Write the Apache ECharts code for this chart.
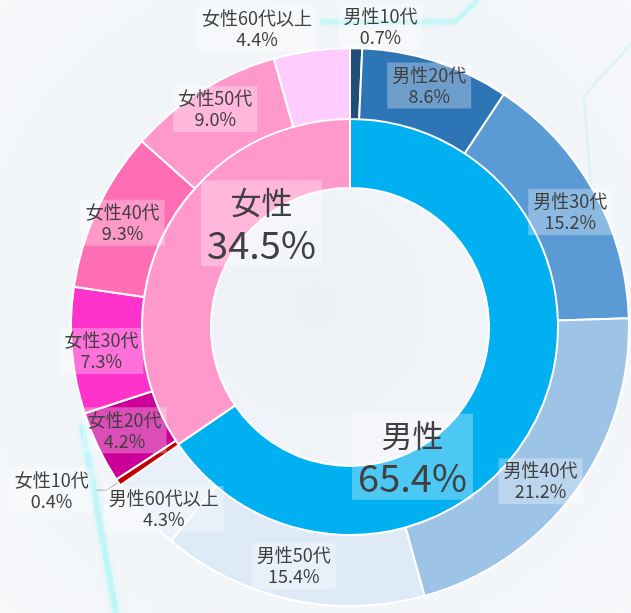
<!DOCTYPE html>
<html>
<head>
<meta charset="utf-8">
<script src="https://cdn.jsdelivr.net/npm/echarts@6/dist/echarts.min.js"></script>
<style>
html, body { margin: 0; padding: 0; }
#chart { width: 631px; height: 613px; }
</style>
</head>
<body>
<div id="chart"></div>
<script>
// 男女比率（内側）
var genderNames = ['男性', '女性'];
var genderValues = [65.4, 34.5];
// 年代別（外側）
var maleNames = ['男性10代', '男性20代', '男性30代', '男性40代', '男性50代', '男性60代以上'];
var maleValues = [0.7, 8.6, 15.2, 21.2, 15.4, 4.3];
var femaleNames = ['女性10代', '女性20代', '女性30代', '女性40代', '女性50代', '女性60代以上'];
var femaleValues = [0.4, 4.2, 7.3, 9.3, 9.0, 4.4];

var genderColors = ['#00b0f0', '#ff99cc'];
var maleColors = ['#1f4e79', '#2e75b6', '#5b9bd5', '#9dc3e6', '#deebf7', '#e9f0f9'];
var femaleColors = ['#c00000', '#cc0099', '#ff33cc', '#ff6eb4', '#ff99cc', '#ffccff'];

// ラベル位置の微調整 [dx, dy]
var innerNudge = [[-94, 47], [68, -21]];
var outerNudge = [[25, -54], [3, -7], [5, 5], [-8, 8], [-4, -2], [-4, 16],
                  [-40, 0], [-3, -3], [-3, 3], [-4, 0], [-4, -9], [-59, -54]];

var labelFont = 'Noto Sans CJK JP';

var myChart = echarts.init(document.getElementById('chart'));

var innerData = genderNames.map(function (n, i) {
    return { name: n, value: genderValues[i], itemStyle: { color: genderColors[i] } };
});
var outerData = [];
maleNames.forEach(function (n, i) {
    outerData.push({ name: n, value: maleValues[i], itemStyle: { color: maleColors[i] } });
});
femaleNames.forEach(function (n, i) {
    var d = { name: n, value: femaleValues[i], itemStyle: { color: femaleColors[i] } };
    if (i === 0) {
        // 女性10代は外側に引き出し線付きで表示
        d.label = { position: 'outside' };
        d.labelLine = { show: true };
    }
    outerData.push(d);
});

var option = {
    backgroundColor: {
        type: 'radial', x: 0.5, y: 0.5, r: 0.75,
        colorStops: [
            { offset: 0, color: '#edf1f6' },
            { offset: 1, color: '#f6f8fa' }
        ]
    },
    animation: false,
    graphic: [
        {
            type: 'polyline', z: -10, silent: true,
            shape: { points: [[82, 425], [116, 613]] },
            style: { stroke: 'rgba(170,245,248,0.6)', lineWidth: 6, fill: null, shadowBlur: 6, shadowColor: 'rgba(170,245,248,0.8)' }
        },
        {
            type: 'polyline', z: -10, silent: true,
            shape: { points: [[320, 22], [455, 22], [478, 0]] },
            style: { stroke: 'rgba(170,245,248,0.5)', lineWidth: 5, fill: null, shadowBlur: 6, shadowColor: 'rgba(170,245,248,0.8)' }
        },
        {
            type: 'polyline', z: -10, silent: true,
            shape: { points: [[631, 44], [584, 96], [602, 330]] },
            style: { stroke: 'rgba(190,240,242,0.4)', lineWidth: 3, fill: null }
        }
    ],
    series: [
        {
            name: '男女',
            type: 'pie',
            center: [350, 327],
            radius: [139, 209],
            startAngle: 90,
            clockwise: true,
            avoidLabelOverlap: false,
            itemStyle: { borderColor: '#fff', borderWidth: 2 },
            label: {
                show: true,
                position: 'inside',
                formatter: function (p) { return '{n|' + p.name + '}\n{v|' + p.value.toFixed(1) + '%}'; },
                color: '#404040',
                backgroundColor: 'rgba(255,255,255,0.3)',
                padding: [1, 6],
                rich: {
                    n: { fontFamily: labelFont, fontSize: 31, lineHeight: 42, color: '#404040' },
                    v: { fontFamily: labelFont, fontSize: 38, lineHeight: 42, color: '#404040' }
                }
            },
            labelLayout: function (p) {
                return { dx: innerNudge[p.dataIndex][0], dy: innerNudge[p.dataIndex][1] };
            },
            labelLine: { show: false },
            emphasis: { disabled: true },
            data: innerData
        },
        {
            name: '年代',
            type: 'pie',
            center: [350, 327],
            radius: [208, 279],
            startAngle: 90,
            clockwise: true,
            avoidLabelOverlap: false,
            itemStyle: { borderColor: '#fff', borderWidth: 2 },
            label: {
                show: true,
                position: 'inside',
                formatter: function (p) { return p.name + '\n' + p.value.toFixed(1) + '%'; },
                fontFamily: labelFont,
                fontSize: 18,
                lineHeight: 21,
                color: '#404040',
                backgroundColor: 'rgba(255,255,255,0.3)',
                padding: [2, 5]
            },
            labelLine: {
                show: false,
                length: 14,
                length2: 10,
                lineStyle: { color: '#a6a6a6', width: 1 }
            },
            labelLayout: function (p) {
                var r = { dx: outerNudge[p.dataIndex][0], dy: outerNudge[p.dataIndex][1] };
                if (p.dataIndex === 6) r.align = 'center';
                return r;
            },
            emphasis: { disabled: true },
            data: outerData
        }
    ]
};
myChart.setOption(option);
</script>
</body>
</html>
